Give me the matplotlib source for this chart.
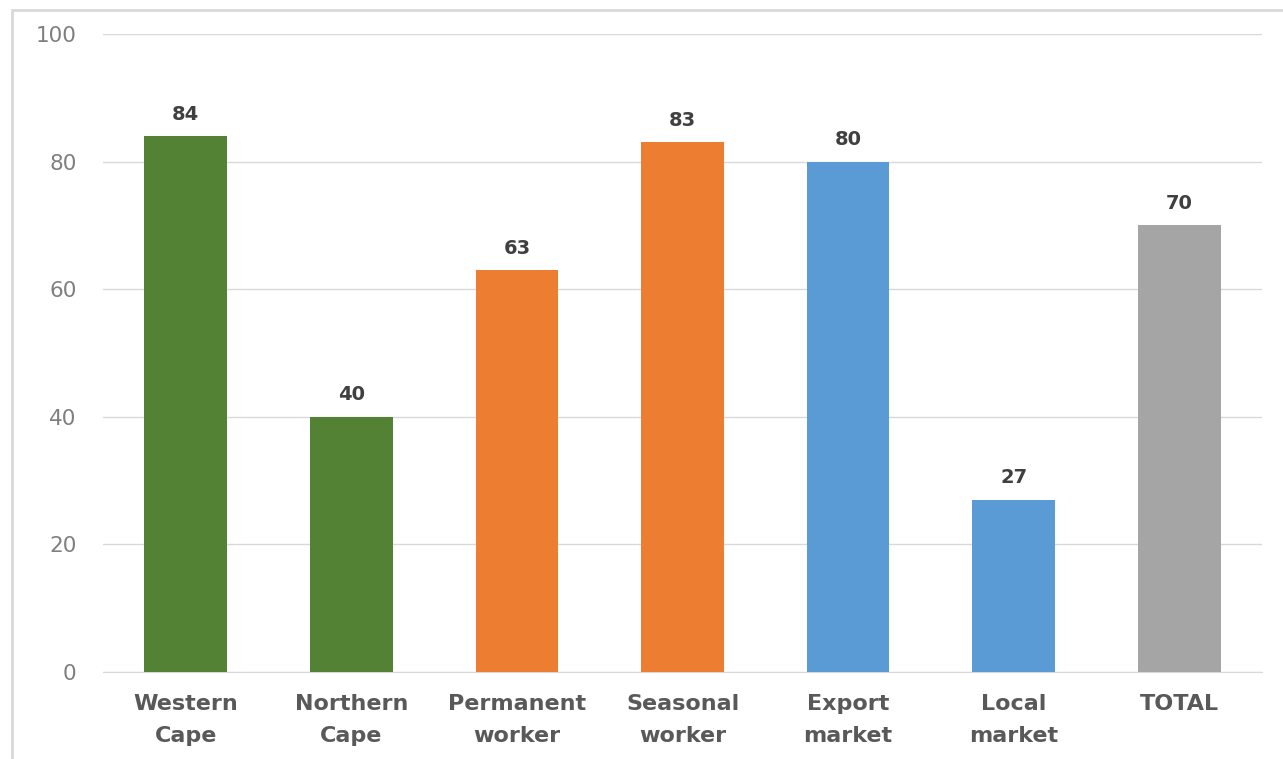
import matplotlib.pyplot as plt
from matplotlib.patches import Rectangle

# chart values
categories = ['Western\nCape', 'Northern\nCape', 'Permanent\nworker', 'Seasonal\nworker',
              'Export\nmarket', 'Local\nmarket', 'TOTAL']
values = [84, 40, 63, 83, 80, 27, 70]
bar_colors = ['#548235', '#548235', '#ED7D31', '#ED7D31', '#5B9BD5', '#5B9BD5', '#A5A5A5']
y_ticks = [0, 20, 40, 60, 80, 100]

fig = plt.figure(figsize=(12.83, 7.59), dpi=100)
ax = fig.add_axes([103 / 1283, 87 / 759, 1159 / 1283, 638 / 759])

x = range(len(categories))
bars = ax.bar(x, values, width=0.5, color=bar_colors, zorder=3)

# value labels on top of the bars
for b, v in zip(bars, values):
    ax.annotate(str(v), (b.get_x() + b.get_width() / 2, v), xytext=(0, 9),
                textcoords='offset points', ha='center', va='bottom',
                fontsize=14, fontweight='bold', color='#404040')

ax.set_xlim(-0.5, len(categories) - 0.5)
ax.set_ylim(0, 100)
ax.set_yticks(y_ticks)
ax.set_xticks(list(x))
ax.set_xticklabels(categories, fontsize=16, fontweight='bold', color='#595959', linespacing=1.75)
ax.tick_params(axis='y', labelsize=15.5, labelcolor='#7F7F7F', length=0, pad=19)
ax.tick_params(axis='x', length=0, pad=16)
ax.grid(axis='y', color='#D9D9D9', linewidth=1, zorder=0)

for side in ['top', 'right', 'left']:
    ax.spines[side].set_visible(False)
ax.spines['bottom'].set_color('#D9D9D9')

# light frame around chart area (cut off at right/bottom like the source)
fig.patches.append(Rectangle((12 / 1283, -0.01), 1.1, (749 / 759) + 0.01,
                             transform=fig.transFigure, fill=False,
                             edgecolor='#D9D9D9', linewidth=2))

fig.savefig('out.png', dpi=100)
